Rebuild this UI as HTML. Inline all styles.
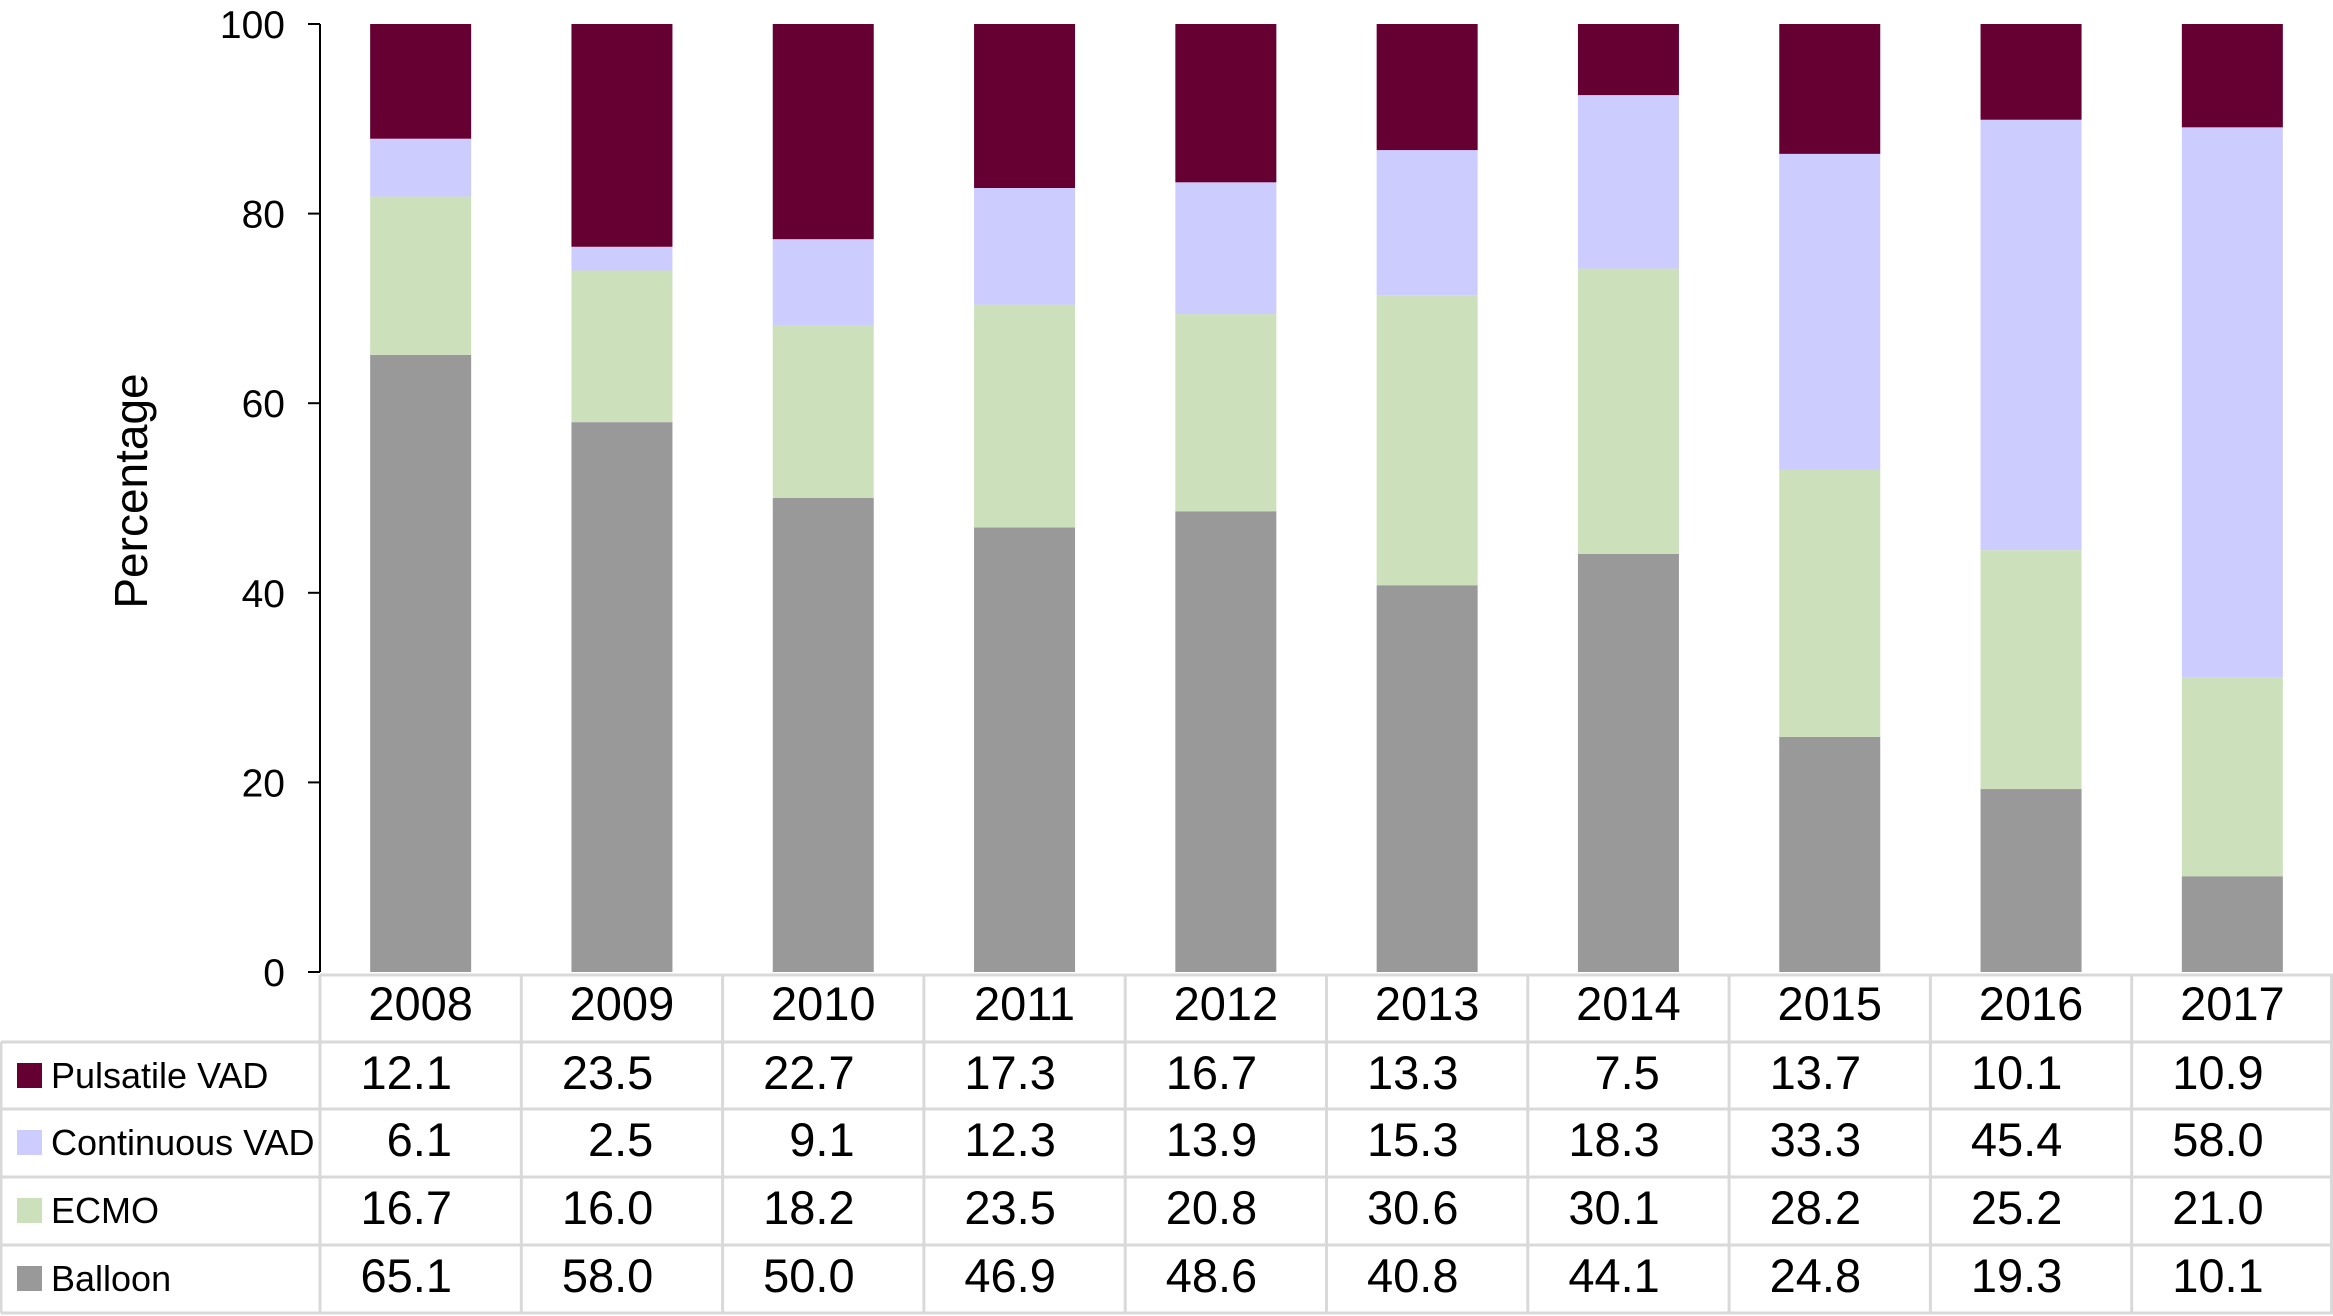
<!DOCTYPE html>
<html><head><meta charset="utf-8"><style>
html,body{margin:0;padding:0;background:#fff;}
svg{display:block;font-family:"Liberation Sans",Arial,sans-serif;}
</style></head><body>
<svg id="chart" width="2333" height="1316" viewBox="0 0 2333 1316" xmlns="http://www.w3.org/2000/svg"></svg>
<script>
const years = ["2008","2009","2010","2011","2012","2013","2014","2015","2016","2017"];
const pulsatile = [12.1,23.5,22.7,17.3,16.7,13.3,7.5,13.7,10.1,10.9];
const continuous = [6.1,2.5,9.1,12.3,13.9,15.3,18.3,33.3,45.4,58.0];
const ecmo = [16.7,16.0,18.2,23.5,20.8,30.6,30.1,28.2,25.2,21.0];
const balloon = [65.1,58.0,50.0,46.9,48.6,40.8,44.1,24.8,19.3,10.1];
const yTicks = [0,20,40,60,80,100];
const seriesNames = ["Pulsatile VAD","Continuous VAD","ECMO","Balloon"];

const NS = "http://www.w3.org/2000/svg";
const svg = document.getElementById("chart");
const X0 = 320, X1 = 2333, YTOP = 24, YBOT = 972;
const colW = (X1 - X0) / years.length;
const barW = 101;
function y(v){ return YBOT - (v/100)*(YBOT-YTOP); }
function xc(i){ return X0 + colW*(i+0.5); }
function mk(tag, attrs, parent){
  const e = document.createElementNS(NS, tag);
  for (const k in attrs) e.setAttribute(k, attrs[k]);
  (parent||svg).appendChild(e);
  return e;
}
const series = [
  {name:"balloon", vals:balloon, color:"#999999"},
  {name:"ecmo", vals:ecmo, color:"#cde0bc"},
  {name:"continuous-vad", vals:continuous, color:"#ccccff"},
  {name:"pulsatile-vad", vals:pulsatile, color:"#660033"}
];
years.forEach((yr,i)=>{
  let base = 0;
  series.forEach(s=>{
    const v = s.vals[i];
    const r = mk("rect",{x:xc(i)-barW/2, y:y(base+v), width:barW, height:y(base)-y(base+v), fill:s.color});
    
    
    base += v;
  });
});
const ax = mk("line",{x1:X0,y1:YTOP,x2:X0,y2:YBOT,stroke:"#000","stroke-width":2});


yTicks.forEach(t=>{
  const tk = mk("line",{x1:X0-12,y1:y(t),x2:X0,y2:y(t),stroke:"#000","stroke-width":2});
  
  
  const tl = mk("text",{x:X0-35,y:y(t)+14,"text-anchor":"end","font-size":39,fill:"#000"});
  tl.textContent = t;
  
  
});
const yt = mk("text",{x:0,y:0,transform:"translate(147,491) rotate(-90)","text-anchor":"middle","font-size":46,fill:"#000"});
yt.textContent = "Percentage";


const rowTops = [975,1042,1109,1177,1245,1313];
const grid = "#d9d9d9";
function gl(x1,y1,x2,y2){
  const l = mk("line",{x1:x1,y1:y1,x2:x2,y2:y2,stroke:grid,"stroke-width":3});
  
  
}
gl(X0,rowTops[0],X1,rowTops[0]);
for (let r=1;r<rowTops.length;r++) gl(1,rowTops[r],X1,rowTops[r]);
gl(1,rowTops[1],1,rowTops[5]);
for (let c=0;c<=years.length;c++){ const xx = Math.min(X0+colW*c, X1-1.5); gl(xx,rowTops[0],xx,rowTops[5]); }
years.forEach((yr,i)=>{
  const t = mk("text",{x:xc(i),y:rowTops[0]+45,"text-anchor":"middle","font-size":47,fill:"#000"});
  t.textContent = yr;
  
  
});
const rowData = [pulsatile, continuous, ecmo, balloon];
const rowColors = ["#660033","#ccccff","#cde0bc","#999999"];
rowData.forEach((arr,r)=>{
  const top = rowTops[r+1];
  const sw = mk("rect",{x:17,y:top+21,width:25,height:25,fill:rowColors[r]});
  
  
  const lb = mk("text",{x:51,y:top+46,"font-size":36,fill:"#000"});
  lb.textContent = seriesNames[r];
  
  
  arr.forEach((v,i)=>{
    const t = mk("text",{x:X0+colW*i+132,y:top+47,"text-anchor":"end","font-size":47,fill:"#000"});
    t.textContent = v.toFixed(1);
    
    
  });
});
</script>
</body></html>
